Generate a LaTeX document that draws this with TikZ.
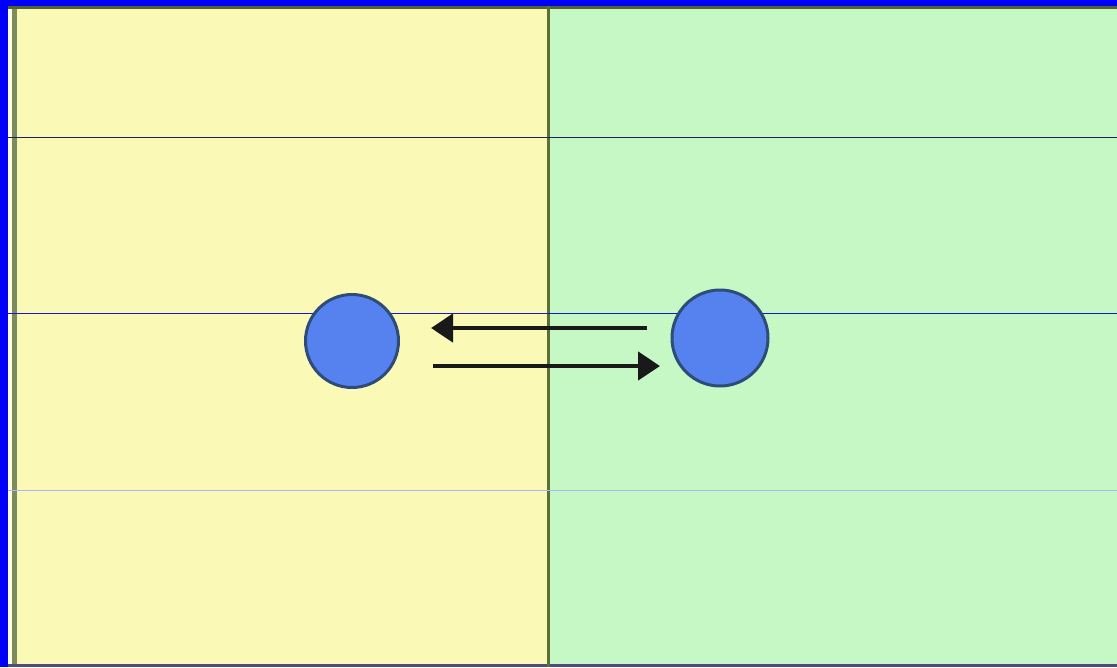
\documentclass[tikz,border=0pt]{standalone}
\usetikzlibrary{arrows.meta}
\definecolor{bord}{HTML}{0000F8}
\definecolor{pyellow}{HTML}{FAFAB6}
\definecolor{pgreen}{HTML}{C6F8C6}
\definecolor{olive}{HTML}{5C6E34}
\definecolor{ball}{HTML}{5582EE}
\definecolor{balledge}{HTML}{2E4C78}
\definecolor{hdark}{HTML}{202060}
\definecolor{hblue}{HTML}{1818D0}
\definecolor{hlight}{HTML}{A8B8F4}
\tikzset{
  ballnode/.style={circle, fill=ball, draw=balledge, line width=3pt, inner sep=0pt},
  arr/.style={line width=4.4pt, draw=black!90, -{Triangle[length=22pt,width=28pt]}},
  hline/.style={line width=1pt}
}
\begin{document}
\begin{tikzpicture}[x=1pt,y=-1pt]
\useasboundingbox (0,0) rectangle (1117,667);
\fill[bord] (0,0) rectangle (1117,667);
\fill[pyellow] (8,6) rectangle (548,667);
\fill[pgreen] (548,6) rectangle (1117,667);
\fill[white!70!pyellow] (8,6) rectangle (12,667);
\fill[olive!80] (12,6) rectangle (17,667);
\fill[olive!90!black] (8,6) rectangle (1117,9);
\fill[hdark!80] (8,664) rectangle (1117,667);
\draw[olive, line width=3pt] (548.5,6) -- (548.5,667);
\draw[hline, hdark] (8,137) -- (1117,137);
\draw[hline, hblue] (8,313) -- (1117,313);
\draw[hline, hlight] (8,490) -- (1117,490);
\node[ballnode, minimum size=93pt] (a) at (352,341) {};
\node[ballnode, minimum size=96pt] (b) at (720,338) {};
\coordinate (t1) at (647,328);
\coordinate (t2) at (431,328);
\coordinate (b1) at (433,366);
\coordinate (b2) at (660,366);
\draw[arr] (t1) -- (t2);
\draw[arr] (b1) -- (b2);
\end{tikzpicture}
\end{document}
